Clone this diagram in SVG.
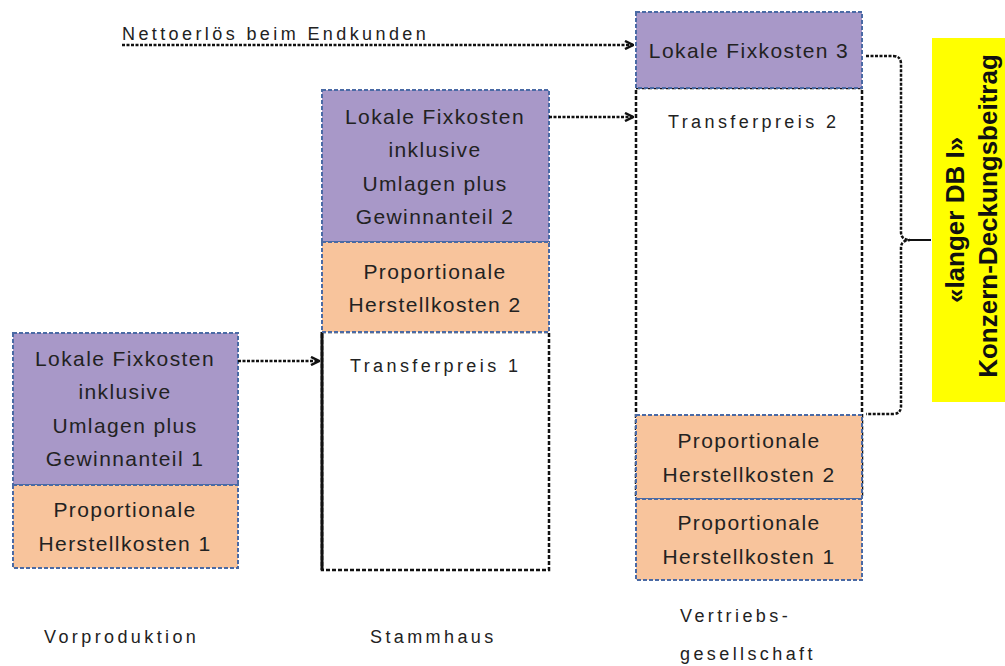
<svg xmlns="http://www.w3.org/2000/svg" width="1005" height="666" viewBox="0 0 1005 666">
<style>
.purple{fill:#a898c8;stroke:#4a6aa5;stroke-width:2;stroke-dasharray:4 2}
.orange{fill:#f8c49c;stroke:#4a6aa5;stroke-width:2;stroke-dasharray:4 2}
.white{fill:#ffffff;stroke:#111;stroke-width:2.5;stroke-dasharray:4 2}
.t{font-family:"Liberation Sans",Arial,sans-serif;font-size:21px;fill:#222;text-anchor:middle;letter-spacing:1.4px}
.s{font-family:"Liberation Sans",Arial,sans-serif;font-size:18px;fill:#222;letter-spacing:3.4px}
.conn{fill:none;stroke:#111;stroke-width:2.5;stroke-dasharray:3 1.5}
.b{font-family:"Liberation Sans",Arial,sans-serif;font-size:26px;font-weight:bold;fill:#111;text-anchor:middle}
</style>
<defs>
<marker id="ah" markerWidth="10" markerHeight="10" refX="9" refY="5" orient="auto" markerUnits="userSpaceOnUse">
<path d="M1,1 L9,5 L1,9" fill="none" stroke="#111" stroke-width="2.5"/>
</marker>
</defs>
<rect width="1005" height="666" fill="#fff"/>

<g id="col1-fix">
<rect class="purple" x="13" y="333" width="225" height="152"/>
<text class="t" x="125" y="366">Lokale Fixkosten</text>
<text class="t" x="125" y="399">inklusive</text>
<text class="t" x="125" y="433">Umlagen plus</text>
<text class="t" x="125" y="466">Gewinnanteil 1</text>
</g>
<g id="col1-prop">
<rect class="orange" x="13" y="485" width="225" height="83"/>
<text class="t" x="125" y="517">Proportionale</text>
<text class="t" x="125" y="551">Herstellkosten 1</text>
</g>

<g id="col2-tp1">
<rect class="white" x="322" y="332" width="227" height="238"/>
<line x1="322" y1="332" x2="322" y2="570" stroke="#111" stroke-width="3"/>
<text class="s" x="350" y="372">Transferpreis 1</text>
</g>
<g id="col2-fix">
<rect class="purple" x="322" y="90" width="227" height="152"/>
<text class="t" x="435" y="124">Lokale Fixkosten</text>
<text class="t" x="435" y="157">inklusive</text>
<text class="t" x="435" y="191">Umlagen plus</text>
<text class="t" x="435" y="224">Gewinnanteil 2</text>
</g>
<g id="col2-prop">
<rect class="orange" x="322" y="242" width="227" height="90"/>
<text class="t" x="435" y="279">Proportionale</text>
<text class="t" x="435" y="312">Herstellkosten 2</text>
</g>

<g id="col3-tp2">
<rect class="white" x="636" y="88" width="226" height="410"/>
<text class="s" x="668" y="128">Transferpreis 2</text>
</g>
<g id="col3-fix">
<rect class="purple" x="636" y="12" width="226" height="76"/>
<text class="t" x="749" y="58">Lokale Fixkosten 3</text>
</g>
<g id="col3-prop2">
<rect class="orange" x="636" y="415" width="226" height="84"/>
<text class="t" x="749" y="448">Proportionale</text>
<text class="t" x="749" y="482">Herstellkosten 2</text>
</g>
<g id="col3-prop1">
<rect class="orange" x="636" y="499" width="226" height="81"/>
<text class="t" x="749" y="530">Proportionale</text>
<text class="t" x="749" y="564">Herstellkosten 1</text>
</g>

<g id="result">
<rect x="932" y="38" width="73" height="364" fill="#ffff00"/>
<text class="b" transform="translate(964,220) rotate(-90)">«langer DB I»</text>
<text class="b" transform="translate(997,216) rotate(-90)">Konzern-Deckungsbeitrag</text>
</g>

<g id="connectors">
<line class="conn" x1="122" y1="45" x2="633" y2="45" marker-end="url(#ah)"/>
<line class="conn" x1="549" y1="117" x2="633" y2="117" marker-end="url(#ah)"/>
<line class="conn" x1="238" y1="361" x2="319" y2="361" marker-end="url(#ah)"/>
<path class="conn" d="M866,56 L893,56 Q901,56 901,64 L901,232 Q901,240 910,240 Q901,240 901,248 L901,406 Q901,414 893,414 L866,414"/>
<line x1="910" y1="240" x2="931" y2="240" stroke="#111" stroke-width="2"/>
</g>

<g id="labels">
<text class="s" x="122" y="40">Nettoerlös beim Endkunden</text>
<text class="s" x="44" y="643">Vorproduktion</text>
<text class="s" x="370" y="643">Stammhaus</text>
<text class="s" x="680" y="622">Vertriebs-</text>
<text class="s" x="680" y="660">gesellschaft</text>
</g>
</svg>
